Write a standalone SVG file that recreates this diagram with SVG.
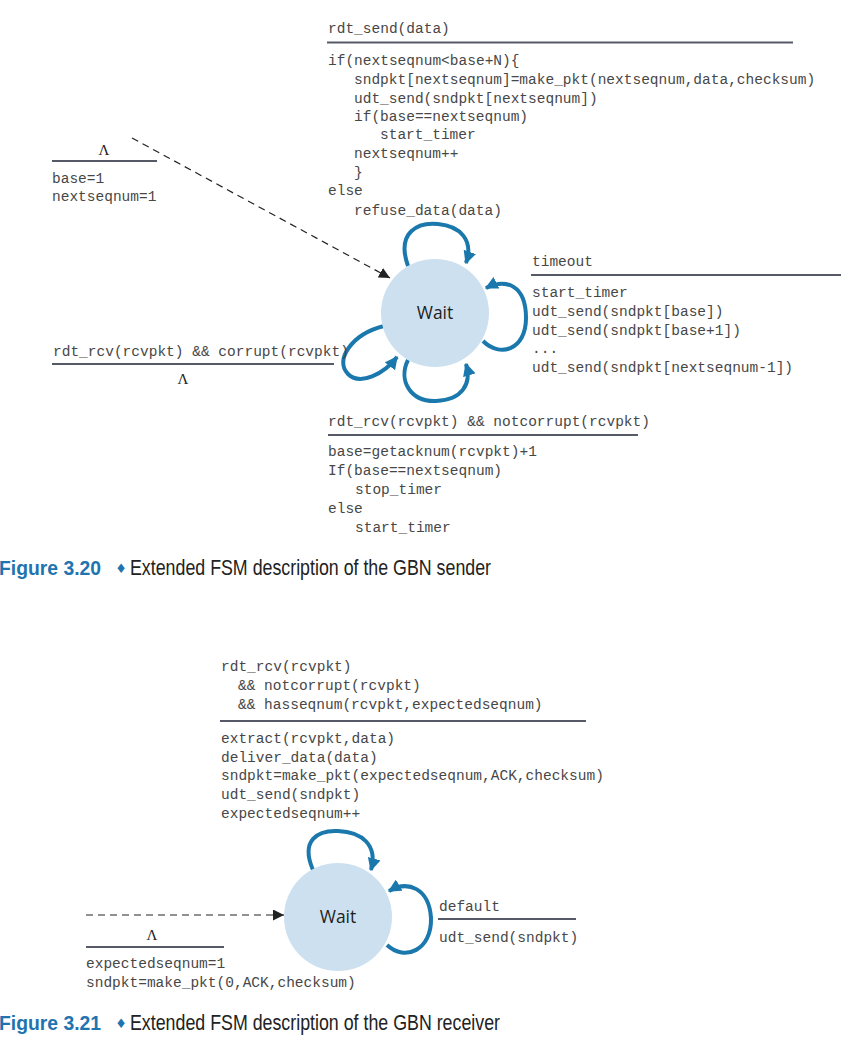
<svg xmlns="http://www.w3.org/2000/svg" width="846" height="1049" viewBox="0 0 846 1049">
  <style>
    .code { font-family: "Liberation Mono", "DejaVu Sans Mono", monospace; font-size: 14.5px; fill: #474747; }
    .lam { font-family: "Liberation Serif", serif; font-size: 15px; fill: #222; }
    .rule { stroke: #555a66; stroke-width: 2; fill: none; }
    .state { fill: #cde0ef; }
    .label { font-family: "Open Sans", "Liberation Sans", sans-serif; font-size: 17.5px; fill: #1e1e1e; text-anchor: middle; }
    .loop { stroke: #1a78ad; stroke-width: 4; fill: none; marker-end: url(#bluehead); }
    .init { stroke: #222; stroke-width: 1.2; stroke-dasharray: 7 5; fill: none; marker-end: url(#blackhead); }
    .fig { font-family: "Liberation Sans", "Open Sans", sans-serif; font-size: 20px; font-weight: bold; fill: #1f74b0; }
    .cap { font-family: "Liberation Sans", "Open Sans", sans-serif; font-size: 22px; fill: #222; }
  </style>
  <defs>
    <marker id="bluehead" viewBox="0 0 10 10" refX="9" refY="5" markerWidth="13" markerHeight="13" markerUnits="userSpaceOnUse" orient="auto">
      <path d="M0,0 L10,5 L0,10 z" fill="#1a78ad"/>
    </marker>
    <marker id="blackhead" viewBox="0 0 10 10" refX="10" refY="5" markerWidth="11" markerHeight="11" markerUnits="userSpaceOnUse" orient="auto">
      <path d="M0,0 L10,5 L0,10 z" fill="#222"/>
    </marker>
  </defs>

  <!-- ===== GBN sender ===== -->
  <g id="sender-connectors">
    <path class="init" d="M132,138 L390,278"/>
    <path class="loop" d="M408,266 C396,232 418,222 438,224 C460,226 474,240 466,263"/>
    <path class="loop" d="M483,341 C500,358 526,350 526,318 C526,285 506,278 486,288"/>
    <path class="loop" d="M384,326 C352,334 334,360 348,374 C360,386 384,374 397,357"/>
    <path class="loop" d="M408,360 C398,380 410,402 436,401 C462,400 472,384 466,364"/>
  </g>

  <g id="sender-wait">
    <circle class="state" cx="435" cy="313" r="54"/>
    <text class="label" x="435" y="319">Wait</text>
  </g>

  <g id="sender-init-label">
    <text class="lam" x="104" y="155" text-anchor="middle">Λ</text>
    <line class="rule" x1="52" y1="161" x2="157" y2="161"/>
    <text class="code" x="52" y="183">base=1</text>
    <text class="code" x="52" y="201">nextseqnum=1</text>
  </g>

  <g id="sender-rdt-send-label">
    <text class="code" x="328" y="33">rdt_send(data)</text>
    <line class="rule" x1="327" y1="42.5" x2="793" y2="42.5"/>
    <text class="code" x="328" y="65">if(nextseqnum&lt;base+N){</text>
    <text class="code" x="354" y="84">sndpkt[nextseqnum]=make_pkt(nextseqnum,data,checksum)</text>
    <text class="code" x="354" y="103">udt_send(sndpkt[nextseqnum])</text>
    <text class="code" x="354" y="121">if(base==nextseqnum)</text>
    <text class="code" x="380" y="139">start_timer</text>
    <text class="code" x="354" y="158">nextseqnum++</text>
    <text class="code" x="354" y="177">}</text>
    <text class="code" x="328" y="195">else</text>
    <text class="code" x="354" y="215">refuse_data(data)</text>
  </g>

  <g id="sender-timeout-label">
    <text class="code" x="532" y="266">timeout</text>
    <line class="rule" x1="531" y1="275" x2="841" y2="275"/>
    <text class="code" x="532" y="297">start_timer</text>
    <text class="code" x="532" y="316">udt_send(sndpkt[base])</text>
    <text class="code" x="532" y="335">udt_send(sndpkt[base+1])</text>
    <text class="code" x="532" y="353">...</text>
    <text class="code" x="532" y="372">udt_send(sndpkt[nextseqnum-1])</text>
  </g>

  <g id="sender-corrupt-label">
    <text class="code" x="53" y="356">rdt_rcv(rcvpkt) &amp;&amp; corrupt(rcvpkt)</text>
    <line class="rule" x1="52" y1="364" x2="334" y2="364"/>
    <text class="lam" x="183" y="384" text-anchor="middle">Λ</text>
  </g>

  <g id="sender-ack-label">
    <text class="code" x="328" y="426">rdt_rcv(rcvpkt) &amp;&amp; notcorrupt(rcvpkt)</text>
    <line class="rule" x1="328" y1="435" x2="638" y2="435"/>
    <text class="code" x="328" y="456">base=getacknum(rcvpkt)+1</text>
    <text class="code" x="328" y="475">If(base==nextseqnum)</text>
    <text class="code" x="355" y="494">stop_timer</text>
    <text class="code" x="328" y="513">else</text>
    <text class="code" x="355" y="532">start_timer</text>
  </g>

  <g id="caption-sender">
    <text class="fig" x="-1" y="575" textLength="102" lengthAdjust="spacingAndGlyphs">Figure 3.20</text>
    <text x="121" y="573" font-family="DejaVu Sans, sans-serif" font-size="13" fill="#1f74b0" text-anchor="middle">♦</text>
    <text class="cap" x="130" y="575" textLength="361" lengthAdjust="spacingAndGlyphs">Extended FSM description of the GBN sender</text>
  </g>

  <!-- ===== GBN receiver ===== -->
  <g id="receiver-connectors">
    <path class="init" d="M86,915 L284,915"/>
    <path class="loop" d="M313,870 C300,840 318,830 338,831 C362,832 378,845 371,870"/>
    <path class="loop" d="M387,945 C405,962 432,950 431,918 C429,888 408,880 389,891"/>
  </g>

  <g id="receiver-wait">
    <circle class="state" cx="338" cy="917" r="54"/>
    <text class="label" x="338" y="923">Wait</text>
  </g>

  <g id="receiver-deliver-label">
    <text class="code" x="221" y="671">rdt_rcv(rcvpkt)</text>
    <text class="code" x="238" y="690">&amp;&amp; notcorrupt(rcvpkt)</text>
    <text class="code" x="238" y="709">&amp;&amp; hasseqnum(rcvpkt,expectedseqnum)</text>
    <line class="rule" x1="220" y1="721" x2="586" y2="721"/>
    <text class="code" x="221" y="743">extract(rcvpkt,data)</text>
    <text class="code" x="221" y="762">deliver_data(data)</text>
    <text class="code" x="221" y="780">sndpkt=make_pkt(expectedseqnum,ACK,checksum)</text>
    <text class="code" x="221" y="799">udt_send(sndpkt)</text>
    <text class="code" x="221" y="818">expectedseqnum++</text>
  </g>

  <g id="receiver-init-label">
    <text class="lam" x="152" y="940" text-anchor="middle">Λ</text>
    <line class="rule" x1="86" y1="947" x2="224" y2="947"/>
    <text class="code" x="86" y="968">expectedseqnum=1</text>
    <text class="code" x="86" y="987">sndpkt=make_pkt(0,ACK,checksum)</text>
  </g>

  <g id="receiver-default-label">
    <text class="code" x="439" y="911">default</text>
    <line class="rule" x1="438" y1="919" x2="576" y2="919"/>
    <text class="code" x="439" y="942">udt_send(sndpkt)</text>
  </g>

  <g id="caption-receiver">
    <text class="fig" x="-1" y="1030" textLength="102" lengthAdjust="spacingAndGlyphs">Figure 3.21</text>
    <text x="121" y="1028" font-family="DejaVu Sans, sans-serif" font-size="13" fill="#1f74b0" text-anchor="middle">♦</text>
    <text class="cap" x="130" y="1030" textLength="370" lengthAdjust="spacingAndGlyphs">Extended FSM description of the GBN receiver</text>
  </g>
</svg>
